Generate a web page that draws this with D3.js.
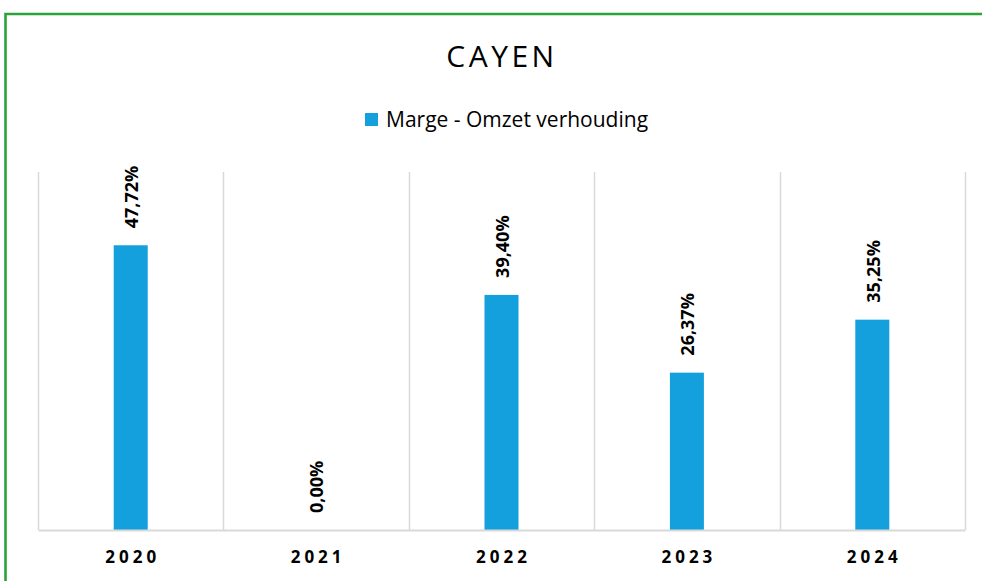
<!DOCTYPE html>
<html><head><meta charset="utf-8">
<script src="https://cdn.jsdelivr.net/npm/d3@7"></script>
<style>body{margin:0;background:#fff;}svg{display:block;}</style>
</head><body><svg id="c" width="982" height="581"></svg>
<script>
const categories = ["2020","2021","2022","2023","2024"];
const values = [47.72, 0.00, 39.40, 26.37, 35.25];
const seriesName = "Marge - Omzet verhouding";
const title = "CAYEN";

const W = 982, H = 581;
const svg = d3.select("#c");
const m = {left:38, right:17, top:172, bottom:51};
const x = d3.scaleBand().domain(categories).range([m.left, W - m.right]).paddingInner(0).paddingOuter(0);
const y = d3.scaleLinear().domain([0, 60]).range([H - m.bottom, m.top]);
const y0 = y(0);

// green frame
svg.append("path").attr("d", `M5.5,${H} L5.5,14 L${W},14`).attr("fill","none").attr("stroke","#2ca23a").attr("stroke-width",2.6);

// title
svg.append("text").attr("x", 502).attr("y", 67).attr("text-anchor","middle")
  .attr("font-family","Open Sans, sans-serif").attr("font-size",30).attr("letter-spacing",3.5)
  .attr("fill","#000").text(title);

// legend
svg.append("rect").attr("x",365).attr("y",113).attr("width",13).attr("height",13).attr("fill","#14a0dc");
svg.append("text").attr("x",386).attr("y",127).attr("font-family","Open Sans, sans-serif").attr("font-size",21)
  .attr("fill","#000").text(seriesName);

// vertical gridlines
const edges = categories.map(c => x(c)).concat([x(categories[categories.length-1]) + x.bandwidth()]);
svg.append("g").selectAll("line").data(edges).join("line")
  .attr("x1", d => Math.round(d)+0.5).attr("x2", d => Math.round(d)+0.5)
  .attr("y1", m.top).attr("y2", y0).attr("stroke","#d9d9d9").attr("stroke-width",1.5);

// bars
const bw = 34;
svg.append("g").selectAll("rect").data(values).join("rect")
  .attr("x", (d,i) => x(categories[i]) + x.bandwidth()/2 - bw/2)
  .attr("y", d => y(d)).attr("width", bw).attr("height", d => y0 - y(d))
  .attr("fill","#14a0dc");

// baseline / x axis
const xa = svg.append("g").attr("transform", `translate(0,${y0})`)
  .call(d3.axisBottom(x).tickSize(0).tickPadding(21));
xa.select(".domain").attr("stroke","#d9d9d9").attr("stroke-width",2);
xa.selectAll("text")
  .style("font-family","'Open Sans', sans-serif").style("font-size","17px").style("font-weight","bold")
  .style("letter-spacing","4px").attr("dx",2).attr("fill","#000");

// data labels
svg.append("g").selectAll("text").data(values).join("text")
  .attr("transform", (d,i) => `translate(${x(categories[i]) + x.bandwidth()/2 + 1},${y(d) - 17}) rotate(-90)`)
  .attr("dy","0.35em").attr("text-anchor","start")
  .attr("font-family","Open Sans, sans-serif").attr("font-size",18).attr("font-weight","bold").attr("fill","#000")
  .text(d => d.toFixed(2).replace(".", ",") + "%");
</script>
</body></html>
